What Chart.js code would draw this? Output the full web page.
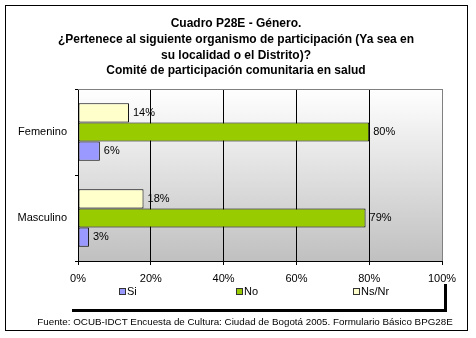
<!DOCTYPE html>
<html>
<head>
<meta charset="utf-8">
<script src="https://cdn.jsdelivr.net/npm/chart.js@4"></script>
<style>
  html, body { margin: 0; padding: 0; background: #ffffff; }
  #wrap { width: 476px; height: 338px; }
</style>
</head>
<body>
<div id="wrap"><canvas id="c" width="476" height="338"></canvas></div>
<script>
// Chart content
const titleLines = [
  'Cuadro P28E - Género.',
  '¿Pertenece al siguiente organismo de participación (Ya sea en',
  'su localidad o el Distrito)?',
  'Comité de participación comunitaria en salud'
];
const categories = ['Femenino', 'Masculino'];
const seriesNames = ['Ns/Nr', 'No', 'Si'];     // top-to-bottom order inside each group
const nsnrValues = [14, 18];
const noValues = [80, 79];
const siValues = [6, 3];
const xTickValues = [0, 20, 40, 60, 80, 100];
const sourceNote = 'Fuente: OCUB-IDCT Encuesta de Cultura: Ciudad de Bogotá 2005. Formulario Básico BPG28E';

const FONT = '"Liberation Sans", Arial, sans-serif';

// plot background gradient, top frame line, outer frame, titles, legend and source
const decorations = {
  id: 'decorations',
  beforeDraw(chart) {
    const { ctx, chartArea: a } = chart;
    ctx.save();
    ctx.fillStyle = '#ffffff';
    ctx.fillRect(0, 0, chart.width, chart.height);
    const g = ctx.createLinearGradient(0, a.top, 0, a.bottom);
    g.addColorStop(0, '#ffffff');
    g.addColorStop(1, '#c0c0c0');
    ctx.fillStyle = g;
    ctx.fillRect(a.left, a.top, a.right - a.left, a.bottom - a.top);
    ctx.restore();
  },
  afterDraw(chart) {
    const { ctx, chartArea: a } = chart;
    ctx.save();
    // grey top edge of the plot
    ctx.strokeStyle = '#808080';
    ctx.lineWidth = 1;
    ctx.beginPath();
    ctx.moveTo(a.left, Math.round(a.top) + 0.5);
    ctx.lineTo(a.right + 1, Math.round(a.top) + 0.5);
    ctx.stroke();

    // outer frame
    ctx.strokeStyle = '#000000';
    ctx.strokeRect(5.5, 5.5, 462, 325);

    // titles
    ctx.fillStyle = '#000000';
    ctx.textAlign = 'center';
    ctx.textBaseline = 'middle';
    ctx.font = 'bold 12px ' + FONT;
    const ty = [24, 40, 56, 71];
    titleLines.forEach((t, i) => ctx.fillText(t, 236, ty[i]));

    // legend (drawn in the order Si, No, Ns/Nr)
    const ds = chart.data.datasets.slice().reverse();
    const lx = [119, 236, 353];
    const ly = 292;
    ctx.font = '11px ' + FONT;
    ctx.textAlign = 'left';
    ds.forEach((d, i) => {
      ctx.fillStyle = d.backgroundColor;
      ctx.fillRect(lx[i], ly - 3, 6, 6);
      ctx.strokeStyle = '#333333';
      ctx.strokeRect(lx[i] + 0.5, ly - 3.5, 6, 6);
      ctx.fillStyle = '#000000';
      ctx.fillText(d.label, lx[i] + 8, ly);
    });

    // legend box shadow edges
    ctx.fillStyle = '#000000';
    ctx.fillRect(72, 309, 375, 3);
    ctx.fillRect(444, 284, 3, 28);

    // source note
    ctx.font = '9.8px ' + FONT;
    ctx.textAlign = 'center';
    ctx.fillText(sourceNote, 245, 322);
    ctx.restore();
  },
  afterDatasetsDraw(chart) {
    const { ctx } = chart;
    ctx.save();
    ctx.fillStyle = '#000000';
    ctx.font = '11px ' + FONT;
    ctx.textAlign = 'left';
    ctx.textBaseline = 'middle';
    chart.data.datasets.forEach((d, di) => {
      chart.getDatasetMeta(di).data.forEach((bar, i) => {
        ctx.fillText(d.data[i] + '%', bar.x + 4, bar.y);
      });
    });
    ctx.restore();
  }
};

new Chart(document.getElementById('c'), {
  type: 'bar',
  data: {
    labels: categories,
    datasets: [
      { label: seriesNames[0], data: nsnrValues, backgroundColor: '#ffffcc' },
      { label: seriesNames[1], data: noValues, backgroundColor: '#99cc00' },
      { label: seriesNames[2], data: siValues, backgroundColor: '#9999ff' }
    ]
  },
  options: {
    indexAxis: 'y',
    responsive: false,
    animation: false,
    devicePixelRatio: 1,
    layout: { padding: { top: 89, right: 34, left: 0, bottom: 0 } },
    datasets: {
      bar: {
        borderColor: '#000000',
        borderWidth: 1,
        borderSkipped: false,
        categoryPercentage: 0.67,
        barPercentage: 1
      }
    },
    plugins: {
      legend: { display: false },
      title: { display: false },
      tooltip: { enabled: false }
    },
    scales: {
      x: {
        type: 'linear',
        min: 0,
        max: 100,
        afterBuildTicks: s => { s.ticks = xTickValues.map(v => ({ value: v })); },
        afterFit: s => { s.height = 77; },
        ticks: {
          callback: v => v + '%',
          color: '#000000',
          font: { family: FONT, size: 11 },
          padding: 7,
          maxRotation: 0
        },
        grid: {
          color: c => (c.tick && c.tick.value === 100 ? '#808080' : '#000000'),
          tickColor: '#000000',
          tickLength: 4,
          lineWidth: 1
        },
        border: { display: true, color: '#000000', width: 1 }
      },
      y: {
        afterFit: s => { s.width = 78; },
        ticks: {
          color: '#000000',
          font: { family: FONT, size: 11 },
          padding: 8
        },
        grid: {
          drawOnChartArea: false,
          color: '#000000',
          tickLength: 3,
          offset: true
        },
        border: { display: true, color: '#000000', width: 1 }
      }
    }
  },
  plugins: [decorations]
});
</script>
</body>
</html>
